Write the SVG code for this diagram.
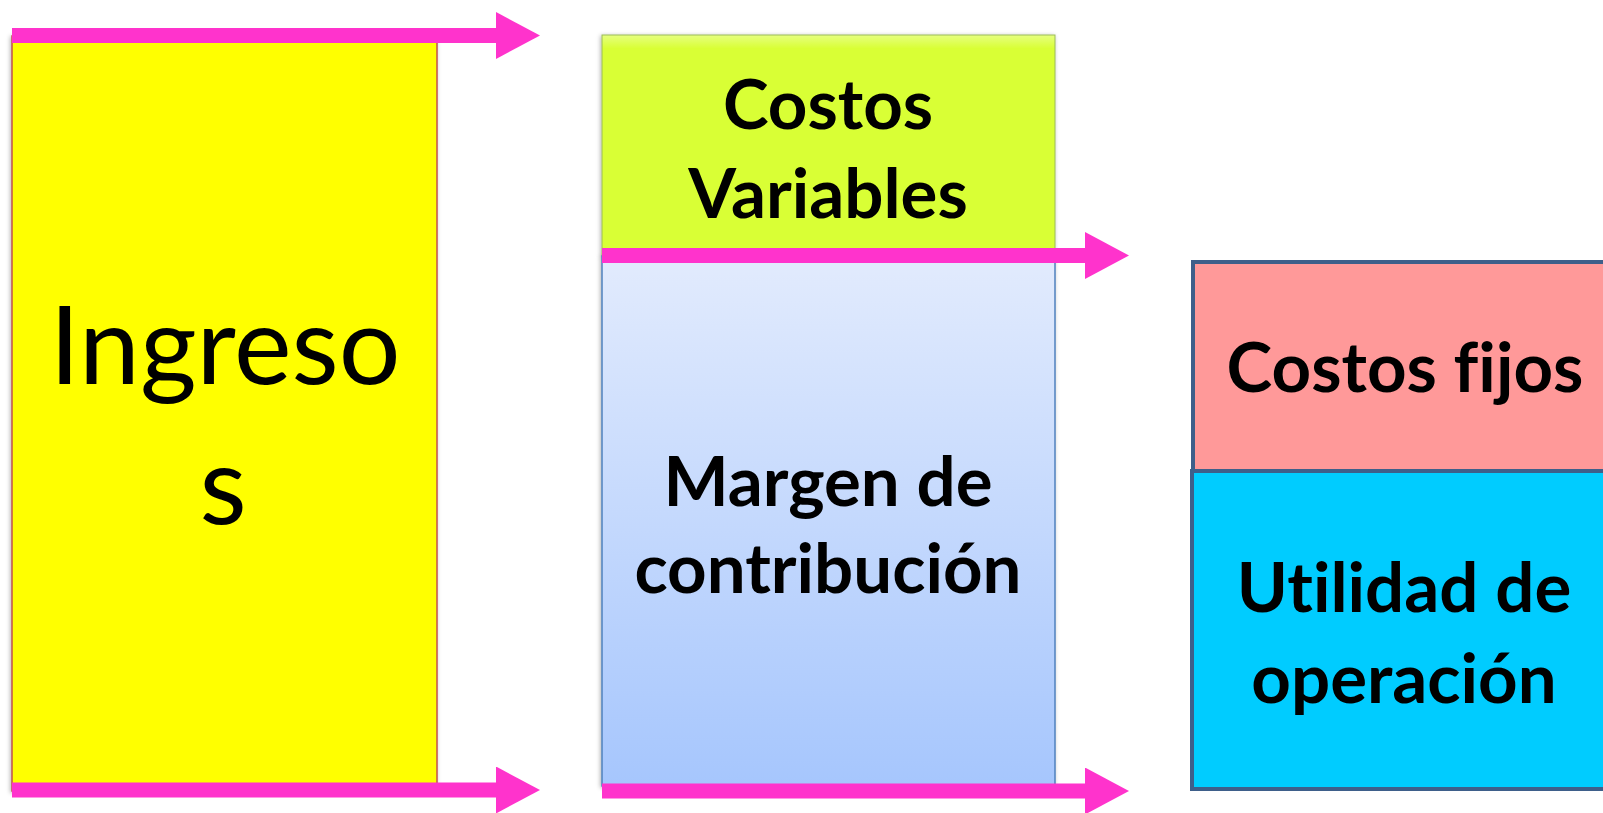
<svg xmlns="http://www.w3.org/2000/svg" width="1603" height="813" viewBox="0 0 1603 813">
<defs>
<style>
.lbl{font-family:Lato,"Liberation Sans",sans-serif;font-weight:700;font-size:69px;fill:#000;text-anchor:middle;font-variant-ligatures:none;font-feature-settings:"liga" 0,"dlig" 0}
.big{font-family:Lato,"Liberation Sans",sans-serif;font-weight:400;font-size:109px;fill:#000;text-anchor:middle;font-variant-ligatures:none}
.arr{stroke:#FF33CC;stroke-width:15;fill:none;marker-end:url(#ah)}
</style>
<marker id="ah" markerUnits="userSpaceOnUse" markerWidth="46" markerHeight="48" refX="0" refY="23.5" orient="auto">
<path d="M0,0 L44,23.5 L0,47 Z" fill="#FF33CC"/>
</marker>
<linearGradient id="blueg" x1="0" y1="0" x2="0" y2="1">
<stop offset="0" stop-color="#E2EBFD"/>
<stop offset="1" stop-color="#A6C6FD"/>
</linearGradient>
<linearGradient id="greeng" x1="0" y1="0" x2="0" y2="1">
<stop offset="0" stop-color="#E6FF80"/>
<stop offset="0.06" stop-color="#D9FF36"/>
<stop offset="1" stop-color="#D9FF36"/>
</linearGradient>
<filter id="sh" x="-5%" y="-5%" width="110%" height="110%">
<feDropShadow dx="-1" dy="1" stdDeviation="2" flood-color="#000" flood-opacity="0.3"/>
</filter>
</defs>
<rect width="1603" height="813" fill="#fff"/>
<g id="ingresos">
<rect x="12" y="36" width="425" height="755" fill="#FFFF00" stroke="#C0504D" stroke-width="1.5" filter="url(#sh)"/>
<text class="big" x="225" y="384">Ingreso</text>
<text class="big" x="223" y="524">s</text>
</g>
<g id="costos-variables">
<rect x="602" y="35" width="453" height="221" fill="url(#greeng)" stroke="#9BBB59" stroke-width="1" filter="url(#sh)"/>
<text class="lbl" x="828" y="129">Costos</text>
<text class="lbl" x="828" y="218">Variables</text>
</g>
<g id="margen">
<rect x="602" y="256" width="453" height="530" fill="url(#blueg)" stroke="#4F81BD" stroke-width="1.5" filter="url(#sh)"/>
<text class="lbl" x="828" y="506">Margen de</text>
<text class="lbl" x="828" y="593">contribución</text>
</g>
<g id="costos-fijos">
<rect x="1193" y="262" width="430" height="209" fill="#FF9999" stroke="#3E5F8A" stroke-width="4"/>
<text class="lbl" x="1405" y="392">Costos fijos</text>
</g>
<g id="utilidad">
<rect x="1192" y="471" width="430" height="318" fill="#00CCFF" stroke="#3E5F8A" stroke-width="4"/>
<text class="lbl" x="1404" y="612">Utilidad de</text>
<text class="lbl" x="1404" y="703">operación</text>
</g>
<g id="connectors">
<line class="arr" x1="12" y1="35.5" x2="496" y2="35.5"/>
<line class="arr" x1="12" y1="790" x2="496" y2="790"/>
<line class="arr" x1="602" y1="255.5" x2="1085" y2="255.5"/>
<line class="arr" x1="602" y1="791" x2="1085" y2="791"/>
</g>
</svg>
